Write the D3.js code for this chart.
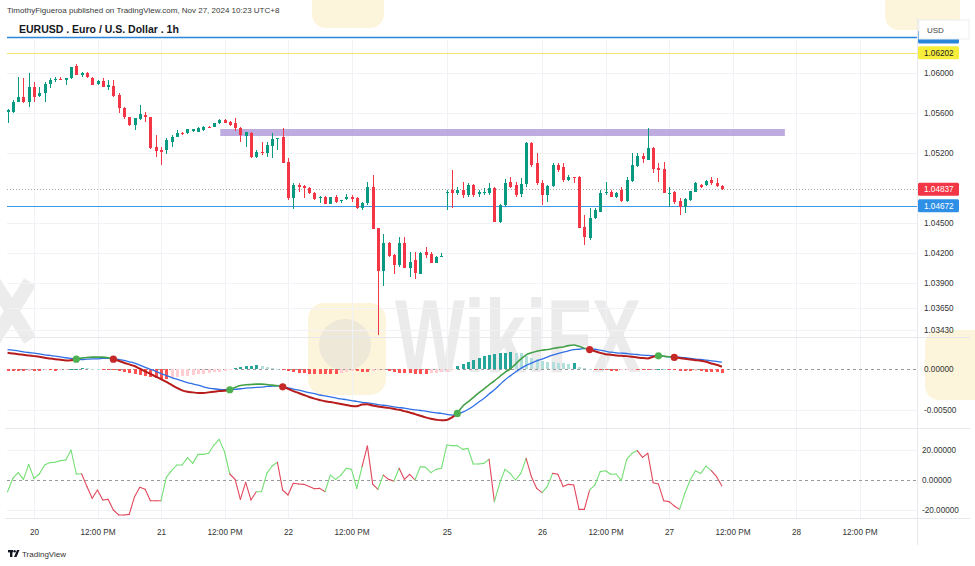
<!DOCTYPE html>
<html><head><meta charset="utf-8">
<script src="https://cdn.jsdelivr.net/npm/d3@7"></script>
<style>html,body{margin:0;padding:0;background:#fff;}svg{display:block;}</style>
</head><body><svg id="c" width="975" height="566"></svg>
<script>
// ---------------- DATA ----------------
const startIndex = -5; // first hourly bar index (0 = Nov 20 00:00)
const opens = [1.0561,1.05613,1.05713,1.05763,1.05713,
1.05863,1.0577,1.05797,1.0589,1.0593,1.05937,1.0593,1.05947,1.0607,1.0598,
1.05997,1.05947,1.0589,1.05923,1.05863,1.0587,1.0578,1.05647,1.05557,1.0548,
1.0554,1.0558,1.05563,1.05257,1.0523,1.0523,1.05313,1.05363,1.05403,1.05397,
1.0542,1.05413,1.0543,1.05463,1.05463,1.05497,1.0553,1.05513,1.05497,1.05447,
1.0537,1.05403,1.05163,1.05213,1.052,1.05273,1.05337,1.05363,1.05113,1.04747,
1.0488,1.0487,1.04847,1.04803,1.04747,1.04757,1.0469,1.04757,1.0472,1.04737,
1.04757,1.04747,1.04647,1.04697,1.04863,1.04447,1.04023,1.04303,1.0418,1.0408,
1.04303,1.04047,1.0413,1.0399,1.04213,1.0419,1.04103,1.04163,1.0480,1.0483,
1.04797,1.0483,1.0478,1.0488,1.0479,1.0481,1.04797,1.04847,1.04513,1.0468,
1.04913,1.0488,1.0479,1.0489,1.05297,1.05097,1.04897,1.0478,1.0487,1.0508,
1.05063,1.0493,1.04957,1.04963,1.04457,1.04347,1.04547,1.04613,1.04797,1.04813,
1.04763,1.0483,1.04723,1.04923,1.0507,1.0517,1.0513,1.05247,1.0505,1.05037,
1.0479,1.04813,1.04723,1.04657,1.0473,1.0481,1.0488,1.04877,1.0493,1.04903,
1.0487];
const highs = [1.0564,1.0573,1.05963,1.05947,1.05997,
1.05913,1.05863,1.05913,1.05947,1.05963,1.05963,1.0595,1.06063,1.0609,1.06013,
1.06013,1.05963,1.0593,1.05947,1.0593,1.0593,1.05797,1.05663,1.05563,1.05547,
1.0568,1.05613,1.05563,1.0538,1.05257,1.05347,1.0538,1.0543,1.05413,1.05443,
1.05443,1.0546,1.05467,1.05473,1.055,1.05537,1.0554,1.0552,1.05547,1.05463,
1.05413,1.05413,1.0523,1.05313,1.05313,1.05397,1.05347,1.05447,1.05147,1.04897,
1.04897,1.0488,1.0486,1.0481,1.0477,1.04767,1.04763,1.0478,1.0473,1.0479,
1.0478,1.04757,1.0471,1.04913,1.0498,1.0445,1.0439,1.04313,1.0419,1.04357,
1.04357,1.04213,1.04213,1.04213,1.04263,1.04213,1.0417,1.042,1.0483,1.0503,
1.04863,1.04913,1.04897,1.0489,1.0483,1.04847,1.04897,1.0486,1.0469,1.0494,
1.04963,1.04913,1.04947,1.0531,1.05313,1.05197,1.0493,1.0488,1.05097,1.05103,
1.05097,1.0498,1.0496,1.0497,1.0458,1.04647,1.04647,1.0483,1.04913,1.0483,
1.04813,1.04863,1.04963,1.05197,1.05197,1.05203,1.0545,1.0526,1.0510,1.05113,
1.04863,1.0482,1.04747,1.04747,1.04823,1.04913,1.0489,1.0493,1.04963,1.04947,
1.0488];
const lows = [1.0550,1.05597,1.05713,1.05697,1.05663,
1.05713,1.05763,1.05713,1.05847,1.05913,1.0593,1.0588,1.0594,1.0598,1.05963,
1.05947,1.0588,1.0588,1.05857,1.0583,1.05763,1.05603,1.05537,1.0547,1.0543,
1.0553,1.05513,1.05237,1.05163,1.0508,1.0519,1.05257,1.05357,1.05383,1.0539,
1.05413,1.05407,1.05423,1.0545,1.0546,1.0549,1.055,1.05473,1.05423,1.05313,
1.05263,1.05147,1.05147,1.0518,1.05163,1.05147,1.0523,1.05103,1.0473,1.04637,
1.04813,1.04747,1.0479,1.0473,1.04697,1.04687,1.04687,1.04697,1.04697,1.0473,
1.04713,1.04637,1.04633,1.0468,1.04437,1.0338,1.0387,1.04163,1.0399,1.04063,
1.04047,1.03963,1.0394,1.0399,1.04147,1.04097,1.04097,1.04163,1.0463,1.04647,
1.0478,1.04747,1.04763,1.04763,1.04763,1.0478,1.0478,1.04513,1.045,1.04663,
1.04847,1.04763,1.04763,1.04863,1.05063,1.0488,1.0468,1.04713,1.04863,1.05013,
1.04913,1.04923,1.04897,1.04447,1.04283,1.0433,1.04537,1.04613,1.0478,1.04757,
1.0475,1.04713,1.04713,1.04913,1.05063,1.05097,1.0513,1.05003,1.04913,1.04803,
1.0466,1.0469,1.0458,1.04597,1.04723,1.0481,1.0485,1.0487,1.0488,1.04857,
1.04827];
const closes = [1.0563,1.05713,1.05763,1.05713,1.05863,
1.05763,1.05797,1.0589,1.0593,1.05937,1.05935,1.05947,1.06063,1.0598,1.05997,
1.05957,1.0588,1.05923,1.05863,1.0588,1.0577,1.05647,1.05557,1.0548,1.05547,
1.05587,1.05563,1.05247,1.0522,1.05213,1.0533,1.05363,1.05403,1.0539,1.05437,
1.05437,1.05453,1.05463,1.0546,1.05497,1.0553,1.05503,1.0548,1.05447,1.0538,
1.05413,1.05163,1.05213,1.052,1.05283,1.0534,1.05347,1.05103,1.04747,1.0488,
1.04863,1.04847,1.04797,1.04737,1.04757,1.0469,1.04757,1.04713,1.0473,1.04757,
1.04743,1.04647,1.04703,1.04863,1.04437,1.04023,1.04303,1.0417,1.0408,1.04303,
1.04047,1.04113,1.03997,1.04197,1.0418,1.04103,1.04163,1.0417,1.04813,1.04797,
1.0483,1.0478,1.0488,1.0478,1.04813,1.04813,1.04847,1.04513,1.0468,1.04897,
1.04863,1.0478,1.0489,1.05297,1.0508,1.04897,1.0478,1.0487,1.0508,1.0503,
1.0493,1.04957,1.04947,1.04447,1.04357,1.04547,1.0463,1.04797,1.04813,1.04763,
1.04797,1.04723,1.0493,1.0508,1.0517,1.05137,1.05247,1.05037,1.0503,1.04803,
1.04803,1.04713,1.04657,1.04737,1.0482,1.04897,1.04857,1.0492,1.04897,1.0487,
1.04837];

const macdLine = [0.00197,0.00189,0.00181,0.00173,0.00165,
0.00157,0.00149,0.00137,0.00129,0.0012,0.00112,0.00104,0.00108,0.0012,0.00133,
0.00141,0.00145,0.00145,0.00145,0.00137,0.0012,0.001,0.00076,0.00056,0.00036,
0.00004,-0.00028,-0.0006,-0.00092,-0.00124,-0.00157,-0.00193,-0.00229,-0.00261,-0.00277,
-0.00285,-0.00293,-0.00293,-0.00285,-0.00277,-0.00269,-0.00265,-0.00253,-0.00225,-0.00201,
-0.00193,-0.00189,-0.00185,-0.00185,-0.00189,-0.00197,-0.00205,-0.00217,-0.00241,-0.00269,
-0.00293,-0.00317,-0.00341,-0.00361,-0.00378,-0.00394,-0.00402,-0.00414,-0.00426,-0.00438,
-0.0045,-0.00454,-0.00434,-0.0043,-0.00446,-0.00458,-0.00466,-0.00474,-0.00486,-0.00498,
-0.00514,-0.0053,-0.0055,-0.0057,-0.0059,-0.00606,-0.00618,-0.00626,-0.00622,-0.0059,
-0.00542,-0.00454,-0.00402,-0.00349,-0.00293,-0.00245,-0.00193,-0.00145,-0.00092,-0.0004,
0.0,0.0006,0.0012,0.00173,0.00197,0.00217,0.00229,0.00237,0.00249,0.00261,
0.00269,0.00285,0.00293,0.00277,0.00253,0.00237,0.00217,0.00197,0.00181,0.00173,
0.00165,0.00161,0.00157,0.00149,0.00141,0.00133,0.00129,0.00149,0.00161,0.00157,
0.00149,0.00141,0.00133,0.00124,0.00116,0.00108,0.001,0.00088,0.00068,0.00052,
0.00028];
const signalLine = [0.00237,0.00229,0.00221,0.00209,0.00201,
0.00193,0.00185,0.00173,0.00165,0.00157,0.00149,0.00137,0.00129,0.0012,0.00116,
0.0012,0.00124,0.00124,0.00129,0.00129,0.00129,0.00116,0.00104,0.00088,0.00072,
0.00048,0.0002,-0.00004,-0.00028,-0.00056,-0.0008,-0.00104,-0.00124,-0.00145,-0.00165,
-0.00181,-0.00197,-0.00217,-0.00233,-0.00241,-0.00249,-0.00253,-0.00253,-0.00249,-0.00241,
-0.00233,-0.00229,-0.00225,-0.00221,-0.00213,-0.00209,-0.00205,-0.00213,-0.00229,-0.00245,
-0.00257,-0.00273,-0.00289,-0.00301,-0.00317,-0.00329,-0.00341,-0.00353,-0.00365,-0.00373,
-0.00386,-0.00394,-0.00406,-0.00414,-0.00422,-0.00434,-0.00442,-0.0045,-0.00462,-0.0047,
-0.00478,-0.0049,-0.00498,-0.00506,-0.00514,-0.00526,-0.00534,-0.00542,-0.00554,-0.00562,
-0.0055,-0.00526,-0.00494,-0.00454,-0.00406,-0.00361,-0.00305,-0.00253,-0.00193,-0.00133,
-0.00084,-0.00036,0.00008,0.00044,0.00072,0.001,0.0012,0.00145,0.00169,0.00189,
0.00205,0.00221,0.00237,0.00241,0.00249,0.00249,0.00241,0.00229,0.00217,0.00205,
0.00197,0.00193,0.00189,0.00181,0.00177,0.00169,0.00165,0.00161,0.00157,0.00153,
0.00149,0.00149,0.00145,0.00137,0.00129,0.0012,0.00116,0.00108,0.001,0.00092,
0.00084];
const histogram = [-0.0003,-0.0003,-0.0003,-0.0003,-0.00024,
-0.0003,-0.0003,-0.00012,-0.00012,-0.0003,-0.00012,-0.00006,0.00006,0.00006,0.00012,
0.0001,0.00006,0.00004,-0.00006,-0.00012,-0.00018,-0.0003,-0.00042,-0.00054,-0.00066,
-0.00078,-0.0009,-0.00102,-0.00114,-0.0012,-0.0012,-0.00108,-0.00096,-0.0009,-0.00084,
-0.00072,-0.00066,-0.0006,-0.00048,-0.00042,-0.00036,-0.00024,-0.00018,0.00012,0.00024,
0.00036,0.00042,0.00048,0.00042,0.00024,0.00012,0.00006,-0.00006,-0.00024,-0.00036,
-0.00048,-0.00054,-0.0006,-0.0006,-0.0006,-0.0006,-0.0006,-0.00066,-0.00054,-0.00036,
-0.00024,-0.0003,-0.00036,-0.00042,-0.00024,-0.00018,-0.00012,-0.00024,-0.00036,-0.00048,
-0.00054,-0.00054,-0.0006,-0.0006,-0.0006,-0.00054,-0.00048,-0.00042,-0.00036,-0.00018,
0.0004,0.0006,0.00084,0.00108,0.00132,0.00156,0.00168,0.0018,0.00192,0.00198,
0.00204,0.00198,0.00192,0.00156,0.00138,0.0012,0.00102,0.0009,0.0008,0.00074,
0.00068,0.00066,0.00078,0.0002,0.00012,0.00006,-0.00012,-0.00012,-0.00018,-0.00024,
-0.00024,-0.00018,-0.00012,-0.00006,-0.00012,-0.00018,-0.00018,-0.00012,0.00006,0.00004,
-0.00006,-0.00012,-0.00024,-0.0003,-0.0003,-0.00024,-0.0003,-0.00036,-0.00036,-0.00042,
-0.00048];
const crossIndex = [8, 15, 37, 47, 80, 105, 118, 121];
const crossBullish = [true, false, true, false, true, false, true, false];

const oscillator = [-7.8,1.1,4.9,0.4,10.4,
1.1,4.0,10,11.6,11.8,12.9,13.3,20,4.0,4.2,
-4.4,-12.2,-6.7,-13.3,-12.9,-20,-23.3,-23.3,-22.9,-11.1,
-4.9,-6.2,-13.8,-13.8,-13.8,1.8,6.2,10,10,14.9,
11.1,17.1,17.1,17.8,23.3,27.1,18.9,4.0,0.4,-12.9,
-1.6,-13.3,-7.8,-7.8,4.4,9.3,11.8,-6.7,-10,-2.2,
-2.7,-2.9,-4.4,-5.8,-5.6,-7.8,3.3,0.4,3.3,7.8,
7.1,-5.6,8.9,22.7,-2.7,-6.2,3.3,0.4,-0.7,7.8,
0.4,3.8,0,8.9,8.4,4.9,7.1,7.8,23.3,22.9,
22.9,20.4,21.1,10.7,10.7,11.1,13.8,-14.4,-2.2,7.1,
4.4,0,4.4,14.4,2.2,-5.6,-8.4,-4.4,4.4,3.8,
-4.4,-2.9,-3.3,-19.6,-19.6,-6.7,-3.3,5.6,6.2,3.8,
4.0,-0.4,13.8,17.8,19.6,15.1,17.8,-1.8,-2.7,-13.8,
-14.4,-17.3,-19.6,-8.9,0,6.2,4.4,9.3,6.2,2.2,
-4.0];
// colour runs of the oscillator line: [colour, first segment index, last segment index]
const oscColorRuns = [["g",-5,8],["r",9,23],["g",24,36],["r",37,41],["g",42,45],["r",46,54],
["g",55,61],["r",62,64],["g",65,65],["r",66,67],["g",68,68],["r",69,71],["g",72,85],["r",86,86],
["g",87,92],["r",93,95],["g",96,97],["r",98,104],["g",105,113],["r",114,121],["g",122,127],["r",128,129]];

const timeTickLabels = ["20","12:00 PM","21","12:00 PM","22","12:00 PM","25","26","12:00 PM","27","12:00 PM","28","12:00 PM"];
const timeTickIndex  = [0,12,24,36,48,60,78,96,108,120,132,144,156];
const priceTicks = [1.06,1.056,1.052,1.045,1.042,1.039,1.0365,1.0343];
const macdTicks = [0,-0.005];
const oscTicks = [20,0,-20];
const lastPrice = 1.04837, blueLevel = 1.04672, yellowLevel = 1.06202, topBlueLevel = 1.0636;
const zoneFrom = 35.2, zoneTo = 141.9, zoneTop = 1.0544, zoneBottom = 1.0537;

// ---------------- CHART ----------------
const FONT = '"Liberation Sans", Arial, sans-serif';
const svg = d3.select("#c").style("font-family", FONT);
const PL = 7, PR = 917;
const x = d3.scaleLinear().domain([0, 24]).range([34, 161]);
const yP = d3.scaleLinear().domain([1.0343, 1.06]).range([330, 73]);
const yM = d3.scaleLinear().domain([-0.005, 0]).range([410, 369]);
const yO = d3.scaleLinear().domain([-20, 20]).range([510, 450]);
const bars = opens.map((o, k) => ({i: startIndex + k, o, h: highs[k], l: lows[k], c: closes[k]}));

// watermark (decorative)
const wm = svg.append("g");
wm.append("rect").attr("x",308).attr("y",303).attr("width",78).attr("height",92).attr("rx",16).attr("fill","#fbf0cf").attr("opacity",0.75);
wm.append("circle").attr("cx",345).attr("cy",345).attr("r",26).attr("fill","#e9e4d8").attr("opacity",0.75);
wm.append("text").attr("x",395).attr("y",372).attr("font-size",104).attr("font-weight",700)
  .attr("textLength",246).attr("lengthAdjust","spacingAndGlyphs").attr("fill","#ebebeb").text("WikiFX");
wm.append("path").attr("d","M-6,282 L30,340 M30,282 L-6,340").attr("stroke","#ececec").attr("stroke-width",14).attr("fill","none");
wm.append("rect").attr("x",925).attr("y",330).attr("width",70).attr("height",70).attr("rx",14).attr("fill","#fbf0cf").attr("opacity",0.75);
wm.append("rect").attr("x",312).attr("y",-30).attr("width",72).attr("height",58).attr("rx",14).attr("fill","#fbf0cf").attr("opacity",0.75);
wm.append("rect").attr("x",885).attr("y",-30).attr("width",75).attr("height",60).attr("rx",14).attr("fill","#fbf0cf").attr("opacity",0.75);

// grid
const grid = svg.append("g").attr("stroke","#f0f2f6").attr("stroke-width",1);
timeTickIndex.forEach(t => grid.append("line").attr("x1",Math.round(x(t))+0.5).attr("x2",Math.round(x(t))+0.5).attr("y1",40).attr("y2",518));
priceTicks.forEach(p => grid.append("line").attr("x1",PL).attr("x2",PR).attr("y1",Math.round(yP(p))+0.5).attr("y2",Math.round(yP(p))+0.5));
[yM(-0.005), yO(20), yO(-20)].forEach(v => grid.append("line").attr("x1",PL).attr("x2",PR).attr("y1",Math.round(v)+0.5).attr("y2",Math.round(v)+0.5));

// pane separators
const sep = svg.append("g").attr("stroke","#e6e8ee").attr("stroke-width",1);
[337.5, 428.5, 518.5].forEach(v => sep.append("line").attr("x1",PL-2).attr("x2",970).attr("y1",v).attr("y2",v));
sep.append("line").attr("x1",PR+0.5).attr("x2",PR+0.5).attr("y1",18).attr("y2",545);

// clip paths
const defs = svg.append("defs");
defs.append("clipPath").attr("id","cp").append("rect").attr("x",PL).attr("y",18).attr("width",PR-PL).attr("height",319);
defs.append("clipPath").attr("id","cm").append("rect").attr("x",PL).attr("y",338).attr("width",PR-PL).attr("height",90);
defs.append("clipPath").attr("id","co").append("rect").attr("x",PL).attr("y",429).attr("width",PR-PL).attr("height",89);

// ---- price pane
const gp = svg.append("g").attr("clip-path","url(#cp)");
gp.append("rect").attr("x",x(zoneFrom)).attr("width",x(zoneTo)-x(zoneFrom))
  .attr("y",yP(zoneTop)).attr("height",yP(zoneBottom)-yP(zoneTop)).attr("fill","#b39ddb").attr("opacity",0.85);
gp.append("line").attr("x1",PL).attr("x2",PR).attr("y1",Math.round(yP(topBlueLevel))+0.5).attr("y2",Math.round(yP(topBlueLevel))+0.5).attr("stroke","#2a86d9").attr("stroke-width",1.3);
gp.append("line").attr("x1",PL).attr("x2",PR).attr("y1",Math.round(yP(yellowLevel))+0.5).attr("y2",Math.round(yP(yellowLevel))+0.5).attr("stroke","#f2e46a").attr("stroke-width",1);
gp.append("line").attr("x1",PL).attr("x2",PR).attr("y1",Math.round(yP(blueLevel))+0.5).attr("y2",Math.round(yP(blueLevel))+0.5).attr("stroke","#3c9be8").attr("stroke-width",1.2);
gp.append("line").attr("x1",PL).attr("x2",PR).attr("y1",Math.round(yP(lastPrice))+0.5).attr("y2",Math.round(yP(lastPrice))+0.5).attr("stroke","#a8a8a8").attr("stroke-width",1).attr("stroke-dasharray","1,2");

const up = "#089981", dn = "#f23645";
const cg = gp.append("g").attr("shape-rendering","crispEdges");
cg.selectAll("line.w").data(bars).join("line").attr("class","w")
  .attr("x1",d=>Math.round(x(d.i))+0.5).attr("x2",d=>Math.round(x(d.i))+0.5)
  .attr("y1",d=>yP(d.h)).attr("y2",d=>yP(d.l)).attr("stroke",d=>d.c>=d.o?up:dn).attr("stroke-width",1);
cg.selectAll("rect.b").data(bars).join("rect").attr("class","b")
  .attr("x",d=>Math.round(x(d.i))-1).attr("width",3.4)
  .attr("y",d=>yP(Math.max(d.o,d.c))).attr("height",d=>Math.max(1,Math.abs(yP(d.o)-yP(d.c))))
  .attr("fill",d=>d.c>=d.o?up:dn);

// ---- MACD pane
const gm = svg.append("g").attr("clip-path","url(#cm)");
gm.append("line").attr("x1",PL).attr("x2",PR).attr("y1",yM(0)+0.5).attr("y2",yM(0)+0.5).attr("stroke","#9a9a9a").attr("stroke-dasharray","3,3");
const histData = histogram.map((v,k)=>({i:startIndex+k, v, prev: k>0?histogram[k-1]:v}));
gm.append("g").attr("shape-rendering","crispEdges").selectAll("rect").data(histData).join("rect")
  .attr("x",d=>Math.round(x(d.i))-1.5).attr("width",3.6)
  .attr("y",d=>Math.min(yM(d.v),yM(0))).attr("height",d=>Math.max(1,Math.abs(yM(d.v)-yM(0))))
  .attr("fill",d=> d.v>=0 ? (d.v>=d.prev?"#26a69a":"#b2dfdb") : (d.v<=d.prev?"#ff5252":"#ffcdd2"));
const sigPts = signalLine.map((v,k)=>[x(startIndex+k), yM(v)]);
gm.append("path").attr("d", d3.line().curve(d3.curveMonotoneX)(sigPts)).attr("fill","none").attr("stroke","#2f6fe6").attr("stroke-width",1.3);
const macdPts = macdLine.map((v,k)=>({i:startIndex+k, v}));
function bullAt(i){ let b=false; crossIndex.forEach((c,j)=>{ if(i>=c) b=crossBullish[j]; }); return b; }
let runs=[], cur=null;
macdPts.forEach((p,k)=>{ if(k===macdPts.length-1) return; const b = bullAt(p.i);
  if(!cur || cur.b!==b){ cur={b, pts:[p]}; runs.push(cur); } cur.pts.push(macdPts[k+1]); });
runs.forEach(r => gm.append("path").attr("d", d3.line().x(d=>x(d.i)).y(d=>yM(d.v)).curve(d3.curveMonotoneX)(r.pts))
  .attr("fill","none").attr("stroke", r.b?"#43a047":"#b71c1c").attr("stroke-width", r.b?1.6:2));
crossIndex.forEach((c,j)=>{ const k=c-startIndex;
  gm.append("circle").attr("cx",x(c)).attr("cy",yM(macdLine[k])).attr("r",3.6).attr("fill",crossBullish[j]?"#4caf50":"#c62828"); });

// ---- oscillator pane
const go = svg.append("g").attr("clip-path","url(#co)");
go.append("line").attr("x1",PL).attr("x2",PR).attr("y1",yO(0)+0.5).attr("y2",yO(0)+0.5).attr("stroke","#9a9a9a").attr("stroke-dasharray","3,3");
function oscColor(i){ for(const r of oscColorRuns){ if(i>=r[1]&&i<=r[2]) return r[0]; } return "g"; }
oscillator.forEach((v,k)=>{ if(k===oscillator.length-1) return; const i=startIndex+k;
  go.append("line").attr("x1",x(i)).attr("y1",yO(v)).attr("x2",x(i+1)).attr("y2",yO(oscillator[k+1]))
    .attr("stroke", oscColor(i)==="g"?"#74df74":"#e0485c").attr("stroke-width",1.1).attr("stroke-linecap","round"); });

// ---- axes
function styleAxis(g){ g.select(".domain").remove(); g.selectAll("text").attr("fill","#333").attr("font-size",8.2).attr("font-family",FONT); }
svg.append("g").attr("transform","translate(924,0)").call(d3.axisRight(yP).tickValues(priceTicks).tickSize(0).tickPadding(0).tickFormat(d3.format(".5f"))).call(styleAxis);
svg.append("g").attr("transform","translate(924,0)").call(d3.axisRight(yM).tickValues(macdTicks).tickSize(0).tickPadding(0).tickFormat(d=>d3.format(".5f")(d).replace("−","-"))).call(styleAxis);
svg.append("g").attr("transform","translate(922,0)").call(d3.axisRight(yO).tickValues(oscTicks).tickSize(0).tickPadding(0).tickFormat(d=>d3.format(".5f")(d).replace("−","-"))).call(styleAxis);
svg.append("g").attr("transform","translate(0,520)").call(d3.axisBottom(x).tickValues(timeTickIndex).tickSize(0).tickPadding(9).tickFormat((d,k)=>timeTickLabels[k])).call(styleAxis);

// price labels on axis
function tag(v, bg, fg, withText){ const y=yP(v);
  svg.append("rect").attr("x",918).attr("y",y-6.5).attr("width",41).attr("height",13).attr("rx",1.5).attr("fill",bg);
  if(withText) svg.append("text").attr("x",924).attr("y",y+3).attr("font-size",8.2).attr("fill",fg).text(d3.format(".5f")(v)); }
tag(topBlueLevel,"#2a86d9","#fff",false);
tag(yellowLevel,"#f7ee3c","#222",true);
tag(blueLevel,"#2e8fe6","#fff",true);
tag(lastPrice,"#f23645","#fff",true);
svg.append("rect").attr("x",919).attr("y",20).attr("width",50).attr("height",19).attr("fill","#fff").attr("stroke","#eceef2");
svg.append("text").attr("x",927).attr("y",33).attr("font-size",8).attr("fill","#444").text("USD");

// header
svg.append("text").attr("x",7).attr("y",13).attr("font-size",8).attr("fill","#3a3a3a")
  .text("TimothyFigueroa published on TradingView.com, Nov 27, 2024 10:23 UTC+8");
svg.append("text").attr("x",19).attr("y",33).attr("font-size",10.5).attr("font-weight",700).attr("fill","#131722")
  .text("EURUSD . Euro / U.S. Dollar . 1h");
// footer logo
const lg = svg.append("g").attr("fill","#131722");
lg.append("rect").attr("x",8).attr("y",550).attr("width",5).attr("height",2.4);
lg.append("rect").attr("x",10).attr("y",550).attr("width",2.4).attr("height",7);
lg.append("path").attr("d","M14,557 L17,550 L19.5,550 L16.5,557 Z");
lg.append("circle").attr("cx",14.6).attr("cy",551.3).attr("r",1.2);
svg.append("text").attr("x",22).attr("y",557).attr("font-size",8).attr("fill","#333").text("TradingView");
</script></body></html>
